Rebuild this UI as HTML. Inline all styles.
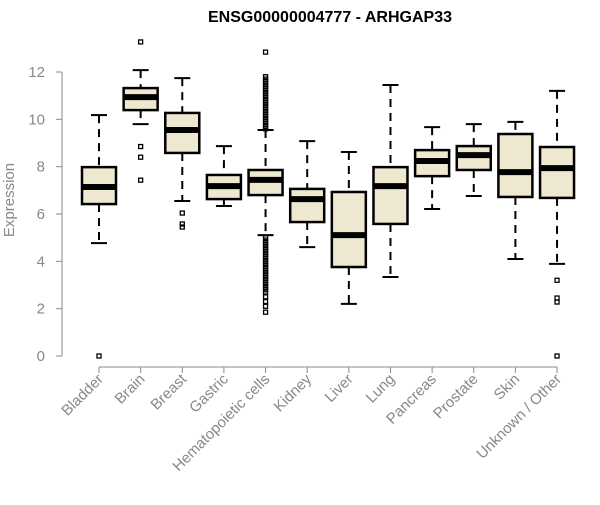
<!DOCTYPE html>
<html><head><meta charset="utf-8"><style>
body{margin:0;background:#fff;font-family:"Liberation Sans",sans-serif}
</style></head><body>
<svg id="chart" width="600" height="500" xmlns="http://www.w3.org/2000/svg">
<text x="330" y="22" text-anchor="middle" font-weight="bold" font-size="16" font-family="Liberation Sans, sans-serif">ENSG00000004777 - ARHGAP33</text>
<text transform="translate(14,200) rotate(-90)" text-anchor="middle" font-size="15" fill="#888">Expression</text>
<g id="axes"></g><g id="marks"></g>
</svg>
<script>
const categories=["Bladder","Brain","Breast","Gastric","Hematopoietic cells","Kidney","Liver","Lung","Pancreas","Prostate","Skin","Unknown / Other"];
const whiskerLow=[4.77,9.8,6.55,6.34,5.11,4.6,2.2,3.34,6.21,6.76,4.1,3.89];
const q1=[6.42,10.39,8.58,6.63,6.8,5.66,3.76,5.58,7.6,7.86,6.72,6.68];
const median=[7.14,10.94,9.55,7.18,7.44,6.63,5.11,7.18,8.24,8.49,7.77,7.94];
const q3=[7.98,11.32,10.27,7.65,7.86,7.06,6.93,7.98,8.7,8.87,9.38,8.83];
const whiskerHigh=[10.18,12.08,11.74,8.87,9.55,9.08,8.62,11.45,9.67,9.8,9.89,11.2];
const outliers=[[0],[13.27,8.85,8.4,7.43],[6.04,5.58,5.45],[],
[12.84,9.6,9.7,9.8,9.9,10.0,10.1,10.2,10.3,10.4,10.5,10.6,10.7,10.8,10.9,11.0,11.1,11.2,11.3,11.4,11.5,11.6,11.7,11.8,
5.0,4.9,4.8,4.7,4.6,4.5,4.4,4.3,4.2,4.1,4.0,3.9,3.8,3.7,3.6,3.5,3.4,3.3,3.2,3.1,3.0,2.9,2.8,2.7,2.5,2.3,2.1,1.85],
[],[],[],[],[],[],[3.2,2.45,2.28,0]];
const yTicks=[0,2,4,6,8,10,12];
const NS="http://www.w3.org/2000/svg";
const y=v=>356-v*(284/12);
const x=i=>99+i*41.64;
function mk(t,a,p){const e=document.createElementNS(NS,t);for(const k in a)e.setAttribute(k,a[k]);p.appendChild(e);return e;}
const axes=document.getElementById('axes'),marks=document.getElementById('marks');
let l=mk('line',{x1:62,x2:62,y1:y(12),y2:y(0),stroke:'#888'},axes);


yTicks.forEach(t=>{
 let tk=mk('line',{x1:56,x2:62,y1:y(t),y2:y(t),stroke:'#888'},axes);
 
 
 let tx=mk('text',{x:45,y:y(t)+5,'text-anchor':'end','font-size':15,fill:'#888'},axes);
 tx.textContent=t;
 
 
});
let xl=mk('line',{x1:x(0),x2:x(11),y1:367,y2:367,stroke:'#888'},axes);


categories.forEach((c,i)=>{
 const cx=x(i);
 let tk=mk('line',{x1:cx,x2:cx,y1:367,y2:373,stroke:'#888'},axes);
 
 
 let tx=mk('text',{x:cx+5,y:380,'text-anchor':'end','font-size':15,fill:'#888',transform:`rotate(-45 ${cx+5} 380)`},axes);
 tx.textContent=c;
 
 
 const g=mk('g',{},marks);
 
 
 mk('line',{x1:cx,x2:cx,y1:y(whiskerHigh[i]),y2:y(q3[i]),stroke:'#000','stroke-width':2,'stroke-dasharray':'8,6'},g);
 mk('line',{x1:cx,x2:cx,y1:y(q1[i]),y2:y(whiskerLow[i]),stroke:'#000','stroke-width':2,'stroke-dasharray':'8,6'},g);
 mk('line',{x1:cx-8,x2:cx+8,y1:y(whiskerHigh[i]),y2:y(whiskerHigh[i]),stroke:'#000','stroke-width':2},g);
 mk('line',{x1:cx-8,x2:cx+8,y1:y(whiskerLow[i]),y2:y(whiskerLow[i]),stroke:'#000','stroke-width':2},g);
 mk('rect',{x:cx-17,y:y(q3[i]),width:34,height:y(q1[i])-y(q3[i]),fill:'#EEE8D0',stroke:'#000','stroke-width':2.5},g);
 mk('line',{x1:cx-17,x2:cx+17,y1:y(median[i]),y2:y(median[i]),stroke:'#000','stroke-width':6},g);
 outliers[i].forEach(v=>{
  let o=mk('rect',{x:cx-2,y:y(v)-2,width:4,height:4,fill:'none',stroke:'#000','stroke-width':1.3},g);
  
  
 });
});
</script>
</body></html>
